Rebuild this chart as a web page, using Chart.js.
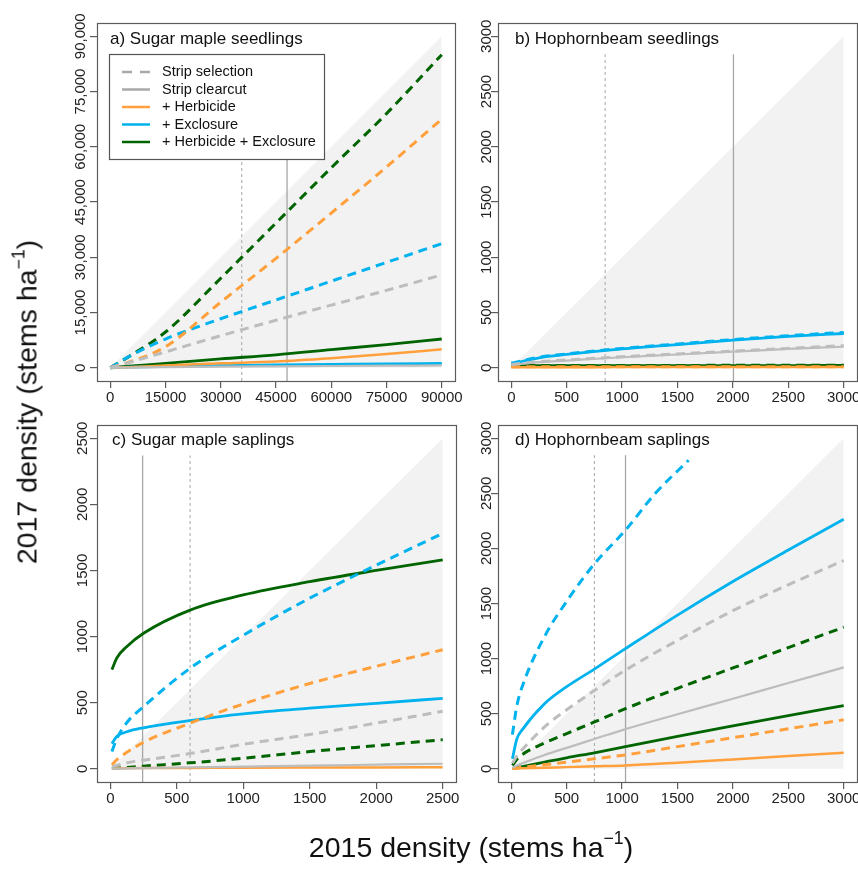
<!DOCTYPE html>
<html>
<head>
<meta charset="utf-8">
<script src="https://cdn.jsdelivr.net/npm/chart.js@4.4.1/dist/chart.umd.min.js"></script>
<style>
  body { margin: 0; background: #fff; }
  #wrap { position: relative; width: 858px; height: 869px; overflow: hidden; font-family: "Liberation Sans", Arial, Helvetica, sans-serif; }
  canvas { position: absolute; }
  .ytitle { position: absolute; left: 27px; top: 402px; transform: translate(-50%, -50%) rotate(-90deg); font-size: 28.5px; white-space: nowrap; color: #111; }
  .xtitle { position: absolute; left: 471px; top: 847px; transform: translate(-50%, -50%); font-size: 28.5px; white-space: nowrap; color: #111; }
  sup { font-size: 62%; vertical-align: 0.7em; line-height: 0; }
</style>
</head>
<body>
<div id="wrap">
  <canvas id="pa" width="470" height="420" style="left:0;top:0"></canvas>
  <canvas id="pb" width="388" height="420" style="left:470px;top:0"></canvas>
  <canvas id="pc" width="470" height="420" style="left:0;top:410px"></canvas>
  <canvas id="pd" width="388" height="420" style="left:470px;top:410px"></canvas>
  <div class="ytitle">2017 density (stems ha<sup>−1</sup>)</div>
  <div class="xtitle">2015 density (stems ha<sup>−1</sup>)</div>
</div>
<script>
// legend + titles
const legendLabels = ['Strip selection', 'Strip clearcut', '+ Herbicide', '+ Exclosure', '+ Herbicide + Exclosure'];
const titles = ['a) Sugar maple seedlings', 'b) Hophornbeam seedlings', 'c) Sugar maple saplings', 'd) Hophornbeam saplings'];

// tick values
const aTicks = [0, 15000, 30000, 45000, 60000, 75000, 90000];
const bTicks = [0, 500, 1000, 1500, 2000, 2500, 3000];
const cTicks = [0, 500, 1000, 1500, 2000, 2500];
const dTicks = [0, 500, 1000, 1500, 2000, 2500, 3000];

// a) sugar maple seedlings
const aX = [0, 5000, 15000, 30000, 45000, 60000, 75000, 90000];
const aSelCtrl = [0, 1400, 4300, 8700, 12900, 17000, 21000, 25200];
const aSelHerb = [0, 1500, 5700, 17800, 29700, 42000, 54500, 67500];
const aSelExcl = [0, 3000, 7800, 13300, 18400, 23500, 28600, 33700];
const aSelBoth = [0, 3000, 9700, 24300, 39300, 54300, 69000, 85000];
const aCutCtrl = [0, 50, 150, 280, 380, 470, 550, 620];
const aCutHerb = [0, 150, 600, 1200, 1700, 2600, 3700, 5000];
const aCutExcl = [0, 150, 350, 600, 750, 900, 1050, 1170];
const aCutBoth = [0, 400, 1200, 2400, 3500, 4900, 6300, 7800];
const aVLines = [35700, 48000];

// b) hophornbeam seedlings
const bX = [0, 250, 500, 1000, 1500, 2000, 2500, 3000];
const bSelCtrl = [30, 55, 70, 100, 125, 150, 175, 200];
const bSelHerb = [8, 8, 8, 9, 9, 9, 10, 10];
const bSelExcl = [40, 95, 125, 175, 215, 255, 290, 320];
const bSelBoth = [20, 20, 20, 21, 21, 22, 22, 22];
const bCutCtrl = [25, 50, 65, 95, 120, 145, 170, 190];
const bCutHerb = [5, 5, 5, 6, 6, 6, 7, 7];
const bCutExcl = [35, 90, 120, 170, 210, 250, 283, 310];
const bCutBoth = [18, 18, 19, 19, 20, 20, 20, 21];
const bVLines = [847, 2005];

// c) sugar maple saplings
const cX = [12, 50, 125, 250, 600, 1000, 1500, 2000, 2500];
const cSelCtrl = [15, 25, 45, 65, 115, 185, 260, 345, 435];
const cSelHerb = [30, 70, 125, 200, 345, 490, 645, 775, 900];
const cSelExcl = [130, 230, 350, 470, 760, 1010, 1290, 1540, 1780];
const cSelBoth = [2, 5, 10, 20, 45, 80, 130, 175, 220];
const cCutCtrl = [0, 1, 3, 5, 10, 16, 24, 31, 38];
const cCutHerb = [2, 3, 4, 5, 6, 8, 9, 10, 12];
const cCutExcl = [190, 245, 280, 310, 365, 415, 458, 495, 533];
const cCutBoth = [750, 840, 925, 1025, 1200, 1315, 1415, 1500, 1580];
const cVLines = [600, 243];

// d) hophornbeam saplings
const dX = [10, 50, 100, 300, 500, 750, 1030, 1500, 2000, 2500, 3000];
const dSelCtrl = [50, 115, 175, 380, 535, 710, 895, 1165, 1435, 1670, 1890];
const dSelHerb = [2, 7, 13, 37, 61, 90, 126, 201, 282, 363, 444];
const dSelExclX = [10, 50, 100, 300, 500, 750, 1030, 1300, 1600];
const dSelExcl = [310, 570, 750, 1200, 1520, 1860, 2165, 2500, 2800];
const dSelBoth = [30, 85, 130, 235, 320, 425, 545, 730, 915, 1100, 1285];
const dCutCtrl = [10, 30, 50, 125, 190, 270, 360, 495, 636, 779, 920];
const dCutHerb = [0, 2, 4, 10, 15, 22, 30, 55, 85, 115, 145];
const dCutExcl = [90, 270, 355, 590, 745, 905, 1090, 1395, 1700, 1985, 2265];
const dCutBoth = [3, 10, 20, 60, 100, 145, 200, 295, 390, 483, 573];
const dVLines = [750, 1031];

const FONT = '"Liberation Sans", Arial, Helvetica, sans-serif';
const COL = { ctrl: '#bdbdbd', herb: '#ffa03c', excl: '#00b2ee', both: '#006400' };
const DASH = [9, 6];

function pts(xs, ys) { return xs.map((x, i) => ({ x: x, y: ys[i] })); }

function curve(xs, ys, color, dashed, w) {
  return {
    data: pts(xs, ys), borderColor: color, borderWidth: w,
    borderDash: dashed ? DASH : [], pointRadius: 0, fill: false,
    cubicInterpolationMode: 'monotone', order: 1
  };
}

function tri(m) {
  return {
    data: [{ x: 0, y: 0 }, { x: m, y: m }, { x: m, y: 0 }],
    backgroundColor: '#f2f2f2', borderWidth: 0, pointRadius: 0, fill: 'origin', order: 30
  };
}

function vline(x, y0, y1, dashed) {
  return {
    data: [{ x: x, y: y0 }, { x: x, y: y1 }], borderColor: '#a6a6a6',
    borderWidth: dashed ? 1 : 1.3, borderDash: dashed ? [3, 3] : [], pointRadius: 0, fill: false, order: 20
  };
}

const deco = {
  id: 'deco',
  afterDraw(chart, args, o) {
    const ctx = chart.ctx, a = chart.chartArea, ys = chart.scales.y;
    ctx.save();
    ctx.strokeStyle = '#5c5c5c';
    ctx.lineWidth = 1.2;
    ctx.strokeRect(Math.round(a.left) + 0.5, Math.round(a.top) + 0.5, Math.round(a.right - a.left), Math.round(a.bottom - a.top));
    // y tick labels, parallel to the axis
    ctx.fillStyle = '#222';
    ctx.font = '15px ' + FONT;
    ctx.textAlign = 'center';
    ctx.textBaseline = 'middle';
    ys.ticks.forEach(t => {
      const y = ys.getPixelForValue(t.value);
      ctx.save();
      ctx.translate(a.left - o.lab, y);
      ctx.rotate(-Math.PI / 2);
      ctx.fillText(o.fmt(t.value), 0, 0);
      ctx.restore();
    });
    // panel title
    ctx.textAlign = 'left';
    ctx.font = '17px ' + FONT;
    ctx.fillStyle = '#111';
    ctx.fillText(o.title, a.left + o.tx, a.top + o.ty);
    if (o.legend) {
      const lx = a.left + 12, ly = a.top + 31, lw = 215, lh = 105;
      ctx.fillStyle = '#fff';
      ctx.fillRect(lx, ly, lw, lh);
      ctx.strokeStyle = '#555';
      ctx.lineWidth = 1.2;
      ctx.strokeRect(lx + 0.5, ly + 0.5, lw, lh);
      const styles = [
        { c: '#a8a8a8', d: [10, 8], w: 2.5 },
        { c: '#a8a8a8', d: [], w: 2.5 },
        { c: COL.herb, d: [], w: 2.5 },
        { c: COL.excl, d: [], w: 2.5 },
        { c: COL.both, d: [], w: 2.5 }
      ];
      ctx.font = '14.5px ' + FONT;
      ctx.textBaseline = 'middle';
      legendLabels.forEach((lab, i) => {
        const y = ly + 18 + i * 17.5;
        ctx.strokeStyle = styles[i].c;
        ctx.lineWidth = styles[i].w;
        ctx.setLineDash(styles[i].d);
        ctx.beginPath();
        ctx.moveTo(lx + 13, y);
        ctx.lineTo(lx + 41, y);
        ctx.stroke();
        ctx.setLineDash([]);
        ctx.fillStyle = '#111';
        ctx.fillText(lab, lx + 53, y);
      });
    }
    ctx.restore();
  }
};

function panel(id, p) {
  const datasets = [
    tri(p.triMax),
    vline(p.vl[0], p.min, p.vTop, true),
    vline(p.vl[1], p.min, p.vTop, false),
    curve(p.x, p.cutCtrl, COL.ctrl, false, 2.2),
    curve(p.x, p.selCtrl, COL.ctrl, true, 3),
    curve(p.x, p.cutHerb, COL.herb, false, 2.5),
    curve(p.x, p.selHerb, COL.herb, true, 3),
    curve(p.exclX || p.x, p.selExcl, COL.excl, true, 3),
    curve(p.x, p.cutExcl, COL.excl, false, 2.8),
    curve(p.x, p.selBoth, COL.both, true, 3),
    curve(p.x, p.cutBoth, COL.both, false, 2.8)
  ];
  const grid = { drawOnChartArea: false, drawTicks: true, tickLength: 7, color: '#5c5c5c', lineWidth: 1.2 };
  new Chart(document.getElementById(id), {
    type: 'line',
    data: { datasets: datasets },
    options: {
      responsive: false, animation: false, devicePixelRatio: 1,
      layout: { padding: { left: 0, top: p.padTop, right: p.padRight, bottom: 0 } },
      plugins: {
        legend: { display: false }, tooltip: { enabled: false },
        deco: { title: p.title, tx: p.tx, ty: p.ty, lab: p.lab, legend: !!p.legend, fmt: p.yfmt }
      },
      scales: {
        x: {
          type: 'linear', min: p.min, max: p.max,
          afterBuildTicks: s => { s.ticks = p.ticks.map(v => ({ value: v })); },
          afterFit: s => { s.height = p.xH; s.paddingLeft = 0; s.paddingRight = 0; },
          ticks: { callback: v => String(v), font: { size: 15, family: FONT }, color: '#222', padding: 1, maxRotation: 0, autoSkip: false },
          grid: grid, border: { display: false }
        },
        y: {
          type: 'linear', min: p.min, max: p.max,
          afterBuildTicks: s => { s.ticks = p.ticks.map(v => ({ value: v })); },
          afterFit: s => { s.width = p.yW; s.paddingTop = 0; s.paddingBottom = 0; },
          ticks: { display: false },
          grid: grid, border: { display: false }
        }
      }
    },
    plugins: [deco]
  });
}

panel('pa', {
  title: titles[0], tx: 13, ty: 16, lab: 16, legend: true, yfmt: v => v.toLocaleString('en-US'),
  min: -3600, max: 93600, ticks: aTicks, triMax: 90000, vl: aVLines, vTop: 85000,
  padTop: 23, padRight: 15, yW: 97, xH: 39,
  x: aX, selCtrl: aSelCtrl, selHerb: aSelHerb, selExcl: aSelExcl, selBoth: aSelBoth,
  cutCtrl: aCutCtrl, cutHerb: aCutHerb, cutExcl: aCutExcl, cutBoth: aCutBoth
});
panel('pb', {
  title: titles[1], tx: 17, ty: 16, lab: 11, yfmt: v => String(v),
  min: -120, max: 3120, ticks: bTicks, triMax: 3000, vl: bVLines, vTop: 2837,
  padTop: 23, padRight: 1, yW: 28, xH: 39,
  x: bX, selCtrl: bSelCtrl, selHerb: bSelHerb, selExcl: bSelExcl, selBoth: bSelBoth,
  cutCtrl: bCutCtrl, cutHerb: bCutHerb, cutExcl: bCutExcl, cutBoth: bCutBoth
});
panel('pc', {
  title: titles[2], tx: 15, ty: 15, lab: 14, yfmt: v => String(v),
  min: -100, max: 2600, ticks: cTicks, triMax: 2500, vl: cVLines, vTop: 2370,
  padTop: 15, padRight: 14, yW: 97, xH: 48,
  x: cX, selCtrl: cSelCtrl, selHerb: cSelHerb, selExcl: cSelExcl, selBoth: cSelBoth,
  cutCtrl: cCutCtrl, cutHerb: cCutHerb, cutExcl: cCutExcl, cutBoth: cCutBoth
});
panel('pd', {
  title: titles[3], tx: 17, ty: 15, lab: 11, yfmt: v => String(v),
  min: -120, max: 3120, ticks: dTicks, triMax: 3000, vl: dVLines, vTop: 2845,
  padTop: 15, padRight: 1, yW: 28, xH: 48,
  x: dX, selCtrl: dSelCtrl, selHerb: dSelHerb, selExcl: dSelExcl, exclX: dSelExclX, selBoth: dSelBoth,
  cutCtrl: dCutCtrl, cutHerb: dCutHerb, cutExcl: dCutExcl, cutBoth: dCutBoth
});
</script>
</body>
</html>
